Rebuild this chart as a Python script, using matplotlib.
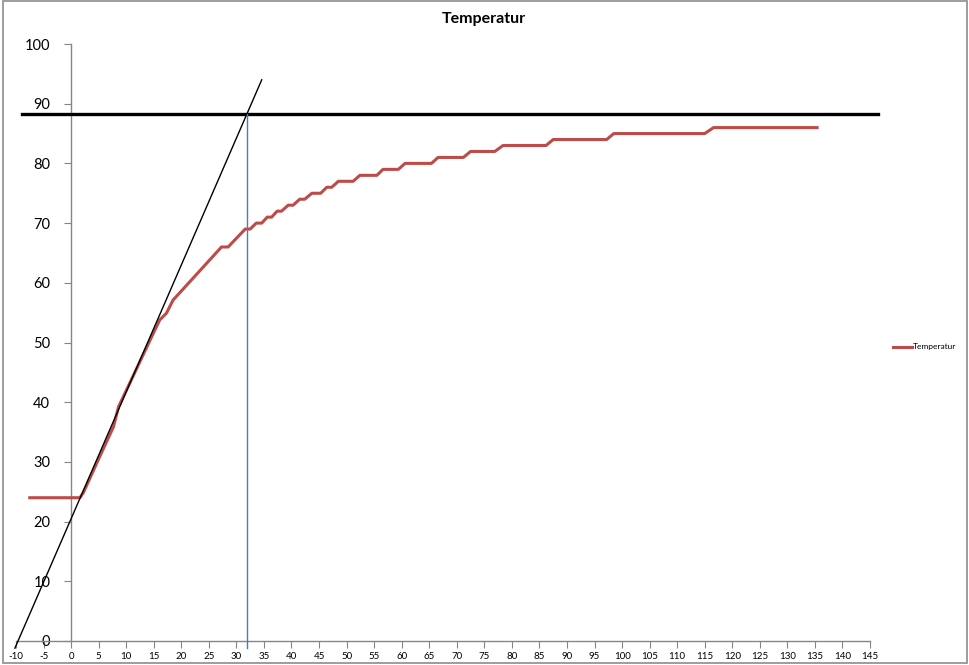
import matplotlib
matplotlib.use("Agg")
import matplotlib.pyplot as plt
from matplotlib.lines import Line2D
from matplotlib.patches import Rectangle

plt.rcParams['font.family'] = ['Lato', 'DejaVu Sans']

# Temperature series
time = [-7.5, 1.6, 2.2, 5.2, 7.7, 8.6, 14.9, 16.1, 17.3, 18.5, 27.3, 28.5,
        31.6, 32.5, 33.6, 34.6, 35.6, 36.4, 37.4, 38.2, 39.4, 40.3, 41.5,
        42.4, 43.7, 45.3, 46.4, 47.3, 48.5, 51.2, 52.4, 55.5, 56.6, 59.4,
        60.6, 65.4, 66.6, 71.2, 72.5, 76.9, 78.4, 86.2, 87.5, 97.2, 98.5,
        115.0, 116.6, 135.4]
temperatur = [24, 24, 24.8, 30.9, 35.9, 39.2, 51.5, 53.8, 54.9, 57.1, 66, 66,
              69, 69, 70, 70, 71, 71, 72, 72, 73, 73, 74,
              74, 75, 75, 76, 76, 77, 77, 78, 78, 79, 79,
              80, 80, 81, 81, 82, 82, 83, 83, 84, 84, 85,
              85, 86, 86]

# Construction lines
tangent_x = [-10.2, 34.6]
tangent_y = [-1.2, 94.0]
hline_y = 88.3
hline_x = [-8.9, 146.4]
vline_x = 31.9

x_ticks = list(range(-10, 150, 5))
y_ticks = list(range(0, 101, 10))

fig = plt.figure(figsize=(9.69, 6.65), dpi=100)
ax = fig.add_axes([16/969, 1-641/665, (870-16)/969, (641-44)/665])
ax.set_xlim(-10, 145)
ax.set_ylim(0, 100)

gray = '#868686'
for s in ['top', 'right']:
    ax.spines[s].set_visible(False)
ax.spines['left'].set_position(('data', 0))
ax.spines['left'].set_color(gray)
ax.spines['bottom'].set_color(gray)
ax.spines['left'].set_linewidth(1)
ax.spines['bottom'].set_linewidth(1)

ax.set_xticks(x_ticks)
ax.set_xticklabels([str(v) for v in x_ticks], fontsize=7)
ax.set_yticks(y_ticks)
ax.set_yticklabels([str(v) for v in y_ticks], fontsize=10.5)
ax.tick_params(axis='x', direction='out', length=5, color=gray, pad=3)
ax.tick_params(axis='y', direction='out', length=5, color=gray, pad=10)

# data series
ax.plot(time, temperatur, color='#BE4B48', lw=2.2, solid_joinstyle='round',
        zorder=3, clip_on=False)

# construction lines
ax.plot(tangent_x, tangent_y, color='black', lw=1, clip_on=False, zorder=4)
ax.plot(hline_x, [hline_y, hline_y], color='black', lw=2.4, clip_on=False, zorder=4)
ax.plot([vline_x, vline_x], [tangent_y[0], hline_y], color='#4A7EBB', lw=1,
        clip_on=False, zorder=4)

fig.text(484/969, 1-19/665, 'Temperatur', ha='center', va='center',
         fontsize=11.5, fontweight='bold')

# legend
fig.add_artist(Line2D([893/969, 912/969], [1-347/665, 1-347/665],
                      color='#BE4B48', lw=2.2))
fig.text(913/969, 1-347/665, 'Temperatur', ha='left', va='center', fontsize=6)

# chart border
fig.add_artist(Rectangle((3/969, 1-663/665), (967-3)/969, 662/665,
                         fill=False, edgecolor='#8c8c8c', lw=1.2,
                         transform=fig.transFigure))

fig.savefig('out.png', dpi=100)
